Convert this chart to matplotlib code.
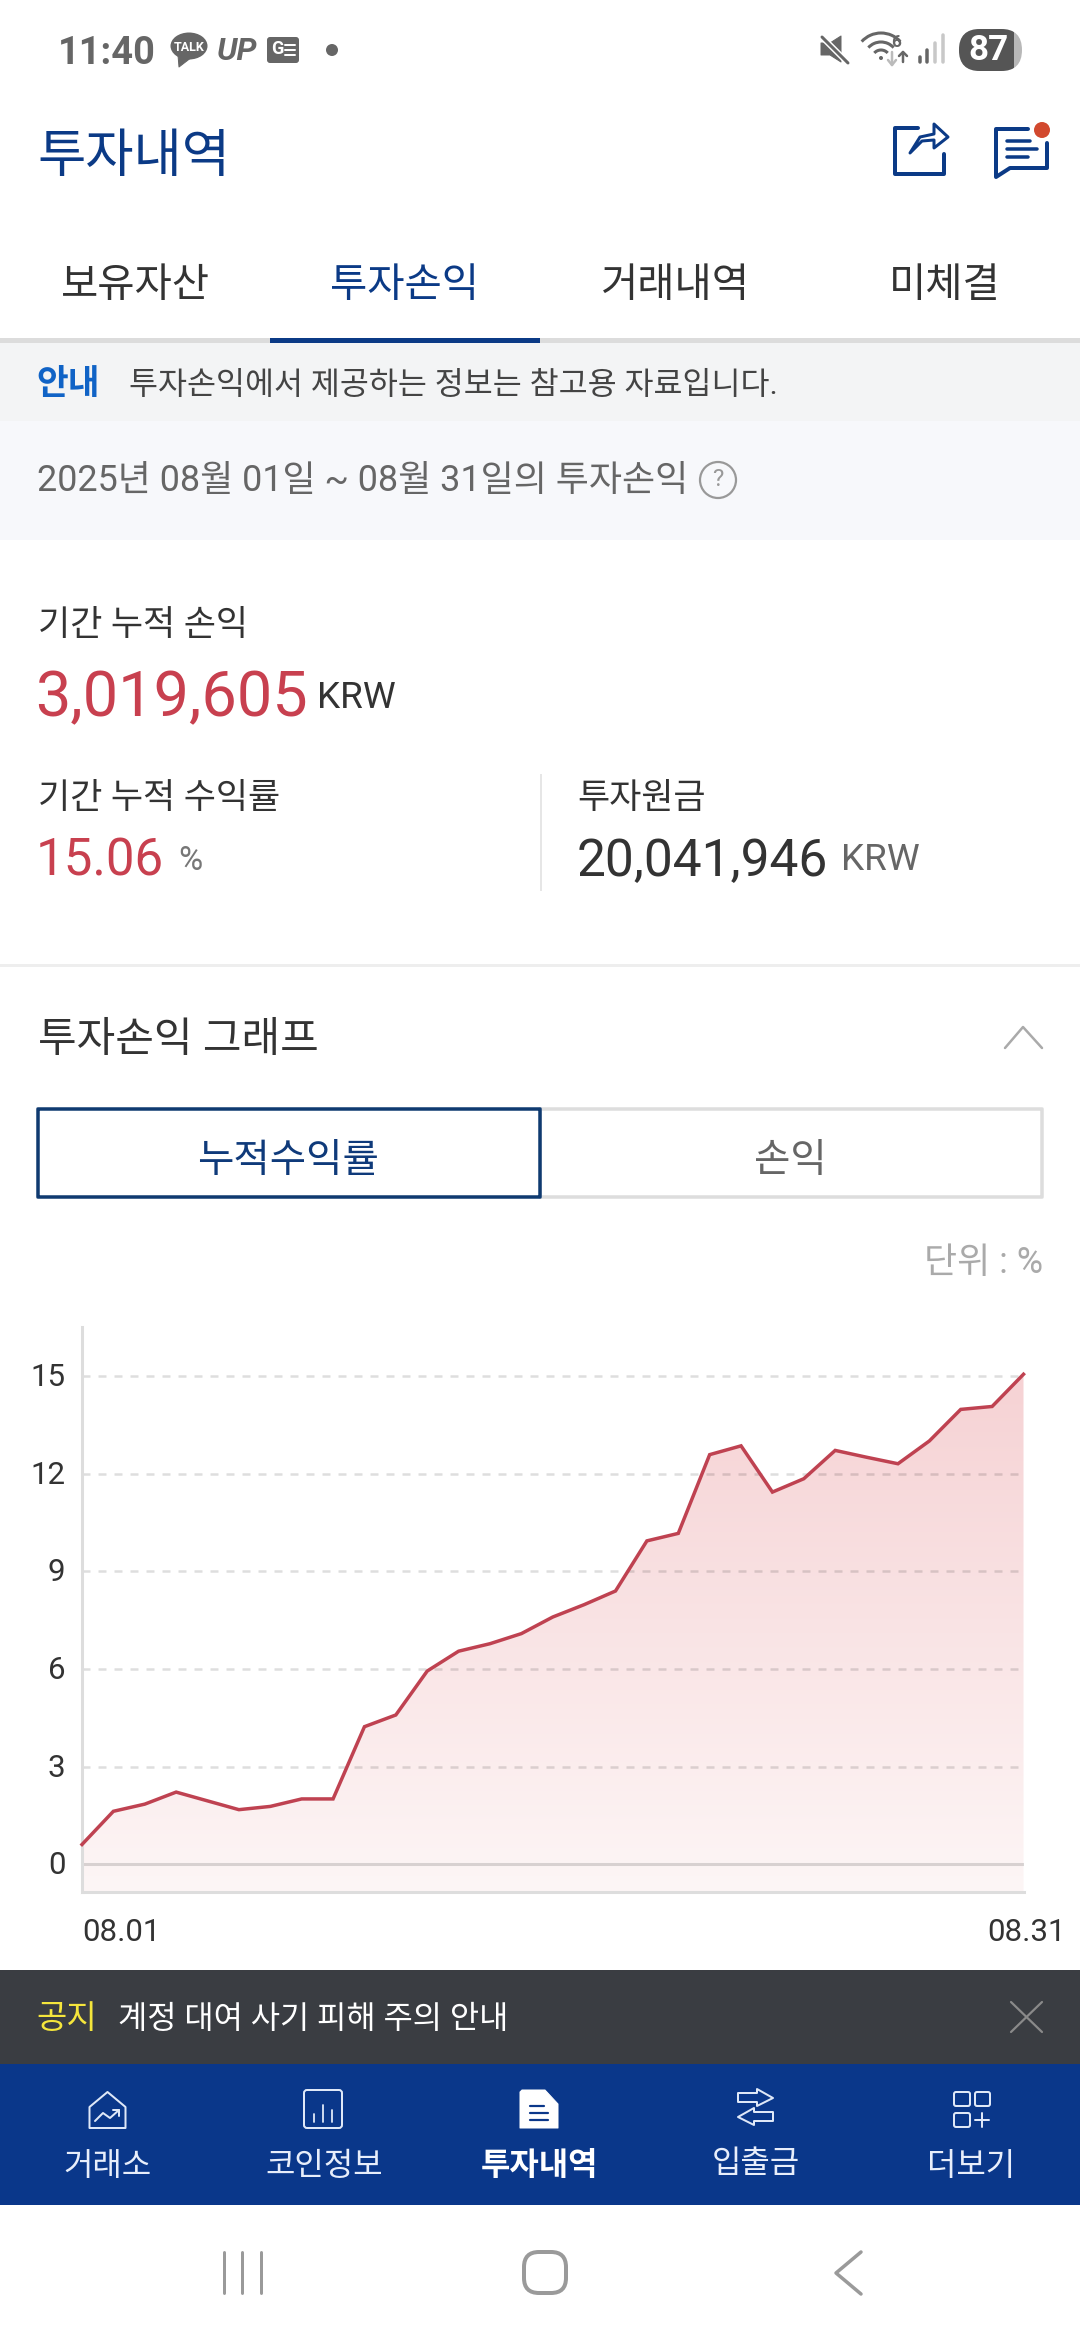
import matplotlib
matplotlib.use("Agg")
import matplotlib.pyplot as plt
import matplotlib.patches as P
import matplotlib.transforms as mtrans
import numpy as np
from matplotlib.colors import LinearSegmentedColormap

plt.rcParams["font.family"] = ["Roboto", "Noto Sans CJK KR", "DejaVu Sans"]

W, H = 1080, 2340

# cumulative return per day, 08.01 - 08.31
returns = [0.61, 1.63, 1.85, 2.22, 1.95, 1.68, 1.78, 2.01, 2.01, 4.23, 4.59,
           5.94, 6.55, 6.78, 7.09, 7.60, 7.98, 8.40, 9.94, 10.17, 12.59, 12.86,
           11.44, 11.85, 12.72, 12.51, 12.31, 13.01, 13.98, 14.07, 15.06]
y_ticks = [0, 3, 6, 9, 12, 15]
x_labels = ["08.01", "08.31"]

tabs = ["보유자산", "투자손익", "거래내역", "미체결"]
nav_items = ["거래소", "코인정보", "투자내역", "입출금", "더보기"]

NAVY = "#0b3a86"
RED = "#c8404f"
DARK = "#333333"
ICON = "#666666"
NAV_GRAY = "#9a9a9a"

fig = plt.figure(figsize=(W / 100, H / 100), dpi=100, facecolor="white")
ui = fig.add_axes([0, 0, 1, 1])
ui.set_xlim(0, W)
ui.set_ylim(H, 0)
ui.axis("off")


def txt(x, y, s, px, color=DARK, ha="left", **kw):
    return ui.text(x, y + 7.5, s, fontsize=px * 0.72, color=color, ha=ha, va="center", **kw)


def box(x0, y0, x1, y1, color, zorder=1):
    ui.add_patch(P.Rectangle((x0, y0), x1 - x0, y1 - y0, fc=color, ec="none", zorder=zorder))


def line(pts, color, px=3, close=False, fill=None, zorder=3):
    ui.add_patch(P.Polygon(pts, closed=close, fill=fill is not None, fc=fill, ec=color,
                           lw=px * 0.72, joinstyle="round", capstyle="round", zorder=zorder))


def rbox(x0, y0, x1, y1, r, fc="none", ec="none", px=0, zorder=3):
    p = P.FancyBboxPatch((x0 + r, y0 + r), x1 - x0 - 2 * r, y1 - y0 - 2 * r,
                         boxstyle=f"round,pad={r},rounding_size={r}",
                         fc=fc, ec=ec, lw=px * 0.72, zorder=zorder)
    ui.add_patch(p)
    return p


# status bar
txt(58, 45.5, "11:40", 38, ICON, weight="bold")
ui.add_patch(P.Ellipse((189, 46), 37, 27, fc=ICON, ec="none"))
line([(178, 55), (179, 67), (192, 57)], ICON, 1, close=True, fill=ICON)
txt(189, 40, "TALK", 12.5, "white", ha="center", weight="bold", zorder=5)
txt(217, 44, "UP", 32, ICON, weight="bold", style="italic")
rbox(267, 37, 299, 63, 3, fc=ICON)
txt(277, 42, "G", 18, "white", ha="center", weight="bold", zorder=5)
for yy in (45, 50, 55):
    line([(285, yy), (295, yy)], "white", 2, zorder=5)
ui.add_patch(P.Circle((332, 50), 6, fc=ICON, ec="none"))

line([(821, 43), (830, 43), (841, 36), (841, 62), (830, 55), (821, 55)], ICON, 1, close=True, fill=ICON)
line([(822, 37), (848, 63)], "white", 6, zorder=4)
line([(822, 37), (848, 63)], ICON, 3, zorder=5)
for r in (9, 17, 26):
    ui.add_patch(P.Arc((881, 59), 2 * r, 2 * r, theta1=222, theta2=318, ec=ICON, lw=2.2))
ui.add_patch(P.Circle((881, 58), 2, fc=ICON, ec="none"))
txt(896, 35, "6", 17, ICON, ha="center", weight="bold")
line([(892, 52), (892, 65)], "#bbbbbb", 2.5)
line([(888, 60), (892, 65), (896, 60)], "#bbbbbb", 2.5)
line([(903, 62), (903, 52)], ICON, 2.5)
line([(899, 56), (903, 52), (907, 56)], ICON, 2.5)
for xx, top, c in zip((920, 927, 935, 943), (57, 50, 43, 35), (ICON, ICON, "#c8c8c8", "#c8c8c8")):
    line([(xx, top), (xx, 62)], c, 3.5)
rbox(959, 29, 1022, 71, 21, fc="#b8b8b8", zorder=3)
dark = rbox(959, 29, 1022, 71, 21, fc="#555555", zorder=4)
dark.set_clip_path(P.Rectangle((959, 29), 55, 42, transform=ui.transData))
txt(989, 43.5, "87", 35, "white", ha="center", weight="bold", zorder=6)

# header
txt(37, 150, "투자내역", 52.5, NAVY)
line([(918, 128), (895, 128), (895, 174), (944, 174), (944, 154)], NAVY, 4)
line([(910, 153), (920, 137), (934, 134), (934, 124), (948, 137), (934, 148), (934, 140), (922, 141)],
     NAVY, 3, close=True)
line([(1028, 129), (996, 129), (996, 177), (1010, 168), (1047, 168), (1047, 143)], NAVY, 4)
for yy, x1 in ((141, 1030), (149, 1037), (157, 1028)):
    line([(1007, yy), (x1, yy)], NAVY, 3.5)
ui.add_patch(P.Circle((1042, 130), 8, fc="#d2492e", ec="none", zorder=5))

# tabs
for name, cx, c in zip(tabs, (135.5, 405, 675.5, 944.5), (DARK, NAVY, DARK, DARK)):
    txt(cx, 278, name, 40.5, c, ha="center")
box(0, 338, W, 343, "#dcdcdc")
box(270, 338, 540, 343, NAVY, zorder=2)

# notice + period bands
box(0, 343, W, 421, "#f3f4f5")
box(0, 421, W, 540, "#f7f8fb")
txt(36.5, 377.5, "안내", 34.5, "#1063c6", weight="bold")
txt(129, 377.5, "투자손익에서 제공하는 정보는 참고용 자료입니다.", 31.5, "#444444")
txt(37, 473.5, "2025년 08월 01일 ~ 08월 31일의 투자손익", 36, "#666666")
ui.add_patch(P.Circle((718, 480), 18, fc="none", ec="#999999", lw=1.6))
txt(718, 472.5, "?", 24, "#999999", ha="center")

# summary
txt(37.5, 618, "기간 누적 손익", 35)
txt(35, 692, "3,019,605", 63, RED)
txt(317, 691, "KRW", 37)
txt(37.5, 791, "기간 누적 수익률", 35)
txt(36, 854.5, "15.06", 51, RED)
txt(178, 853, "%", 33, "#777777")
box(540, 774, 542, 891, "#e6e6e6")
txt(577, 791, "투자원금", 35)
txt(577, 854.5, "20,041,946", 51.5)
txt(841, 853, "KRW", 37, "#666666")
box(0, 964, W, 966.5, "#eeeeee")

# graph section header
txt(37.5, 1033, "투자손익 그래프", 42)
line([(1005, 1048), (1023, 1027), (1042, 1048)], "#aaaaaa", 2.5)
rbox(540, 1109, 1042, 1197, 0.1, fc="white", ec="#dddddd", px=3.5, zorder=2)
rbox(38, 1109, 540, 1197, 0.1, fc="white", ec="#0f3a70", px=3.5, zorder=3)
txt(288, 1153, "누적수익률", 39.5, "#0f3a7a", ha="center", zorder=4)
txt(790, 1153, "손익", 39.5, "#666666", ha="center", zorder=4)
txt(1043, 1255, "단위 : %", 36, "#aaaaaa", ha="right")

# chart, axes placed on the pixel frame of the screenshot
ax_l, ax_r, ax_t, ax_b = 82, 1023.5, 1327.4, 1892
ax = fig.add_axes([ax_l / W, 1 - ax_b / H, (ax_r - ax_l) / W, (ax_b - ax_t) / H])
ax.patch.set_alpha(0)
y_min, y_max = -0.85, 16.5
x = np.arange(len(returns))

poly = ax.fill_between(x, returns, y_min, color="none")
cmap = LinearSegmentedColormap.from_list("fade", ["#fdf6f6", "#f6d2d4"])
grad = ax.imshow(np.linspace(0, 1, 256)[:, None], origin="lower", aspect="auto", cmap=cmap,
                 extent=[0, x[-1], y_min, 15.06], zorder=1)
grad.set_clip_path(poly.get_paths()[0], transform=ax.transData)

ax.hlines([t for t in y_ticks if t > 0], 0, 29.83, colors=[(0, 0, 0, 0.13)], lw=1.8,
          linestyles=[(0, (3.2, 3.2))], zorder=2)
ax.axhline(0, color=(0, 0, 0, 0.14), lw=2.2, zorder=2)
ax.plot(x, returns, color="#bf4251", lw=2.5, solid_joinstyle="miter", zorder=3, clip_on=False)

ax.set_xlim(0, x[-1])
ax.set_ylim(y_min, y_max)
ax.set_yticks(y_ticks)
ax.set_xticks([0, x[-1]], x_labels)
ax.tick_params(axis="y", length=0, pad=12, labelsize=22.5, labelcolor=DARK)
ax.tick_params(axis="x", length=0, pad=18.5, labelsize=22.5, labelcolor=DARK)
ax.get_xticklabels()[0].set_ha("left")
# small nudges so the tick labels sit where the app puts them
up = mtrans.ScaledTranslation(0, 1.2 / 72, fig.dpi_scale_trans)
for lab in ax.get_yticklabels():
    lab.set_transform(lab.get_transform() + up)
right = mtrans.ScaledTranslation(2.5 / 72, 0, fig.dpi_scale_trans)
ax.get_xticklabels()[1].set_transform(ax.get_xticklabels()[1].get_transform() + right)
for side in ("top", "right"):
    ax.spines[side].set_visible(False)
for side in ("left", "bottom"):
    ax.spines[side].set_color("#dddddd")
    ax.spines[side].set_linewidth(2.2)

# notice banner
box(0, 1970, W, 2064, "#3a3d42")
txt(36, 2011.5, "공지", 33, "#f5e63c")
txt(118, 2011.5, "계정 대여 사기 피해 주의 안내", 31.8, "white")
line([(1011, 2002), (1042, 2032)], "#8a8a8a", 2.2)
line([(1042, 2002), (1011, 2032)], "#8a8a8a", 2.2)

# bottom navigation
box(0, 2064, W, 2205, "#0a378a")
for name, cx in zip(nav_items, (107.5, 324, 539, 755.5, 971)):
    bold = name == "투자내역"
    cy = 2157 if name == "입출금" else 2159
    txt(cx, cy, name, 32, "#e8eefb" if not bold else "white", ha="center", weight="bold" if bold else "normal")
ICW = "#dfe8f8"
line([(89.5, 2107), (107.5, 2092), (125.5, 2107), (125.5, 2128), (89.5, 2128)], ICW, 2, close=True)
line([(95, 2121), (103, 2113), (110, 2118), (119, 2110)], ICW, 2)
line([(113, 2110), (119, 2110), (119, 2116)], ICW, 2)
rbox(304, 2090, 342, 2128, 3, ec=ICW, px=2)
for xx, top in ((314, 2114), (323, 2105), (332, 2110)):
    line([(xx, top), (xx, 2122)], ICW, 1.8)
line([(522, 2090), (545, 2090), (558, 2104), (558, 2128), (520, 2128), (520, 2092)], "white", 1, close=True, fill="white")
for yy, x1 in ((2106, 544), (2113, 548), (2120, 548)):
    line([(530, yy), (x1, yy)], "#0a378a", 2.2, zorder=4)
line([(738, 2093), (757, 2093), (757, 2089), (773, 2098), (757, 2106), (757, 2102), (738, 2102)], ICW, 2, close=True)
line([(773, 2112), (754, 2112), (754, 2108), (738, 2117), (754, 2125), (754, 2121), (773, 2121)], ICW, 2, close=True)
rbox(954, 2092, 970, 2106, 2, ec=ICW, px=2)
rbox(975, 2092, 990, 2106, 2, ec=ICW, px=2)
rbox(954, 2113, 970, 2127, 2, ec=ICW, px=2)
line([(975, 2120), (989, 2120)], ICW, 2)
line([(982, 2113), (982, 2127)], ICW, 2)

# android nav bar
for xx in (224, 242, 261):
    line([(xx, 2252), (xx, 2293)], NAV_GRAY, 3)
rbox(524, 2252, 566, 2293, 15, ec=NAV_GRAY, px=4)
line([(861, 2252), (836, 2273), (861, 2294)], NAV_GRAY, 3.5)

fig.savefig("out.png", dpi=100)
